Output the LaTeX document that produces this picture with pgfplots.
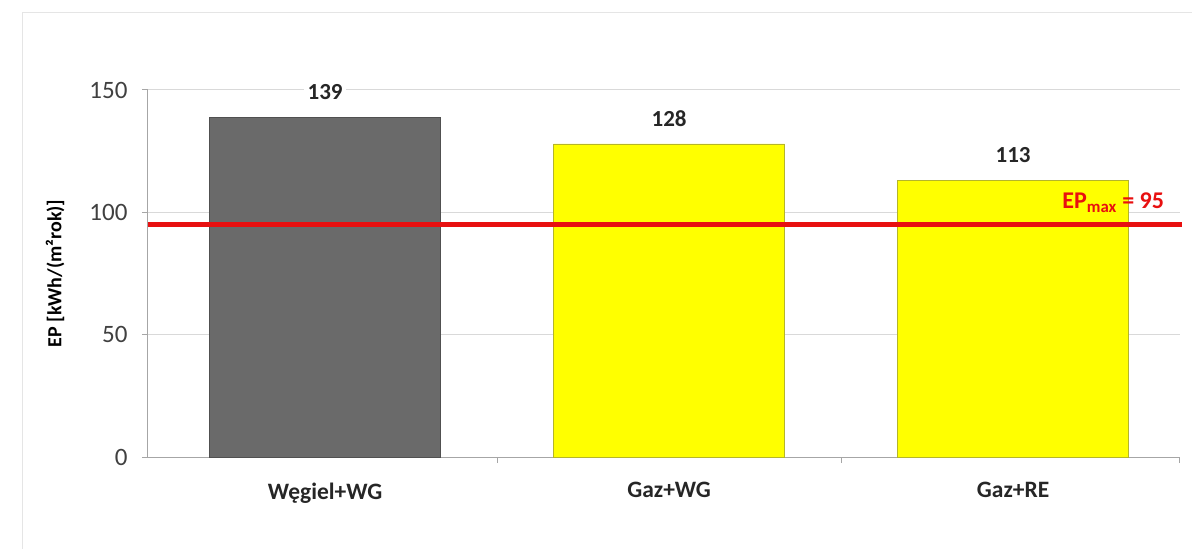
\documentclass[border=0pt]{standalone}
\usepackage{pgfplots}
\pgfplotsset{compat=1.18}
\usepackage{fontspec}
\setmainfont{Carlito}
\definecolor{barGray}{HTML}{6A6A6A}
\definecolor{barGrayEdge}{HTML}{505050}
\definecolor{barYellow}{HTML}{FFFF00}
\definecolor{barYellowEdge}{HTML}{B5B52A}
\definecolor{epRed}{HTML}{E81010}
\definecolor{tickGray}{HTML}{404040}

\begin{document}
\begin{tikzpicture}[x=1pt,y=1pt]
\path[use as bounding box] (0,0) rectangle (1192,549);
\draw[black!10] (22,0) -- (22,537) -- (1192,537);
\begin{axis}[
	at={(148pt,92pt)}, anchor=south west,
	scale only axis,
	width=1032pt, height=367pt,
	xmin=-0.515, xmax=2.485,
	ymin=0, ymax=150,
	clip=false,
	axis lines*=left,
	axis line style={draw=black!35, line width=1pt},
	ytick={0,50,100,150},
	ymajorgrids,
	grid style={black!15, line width=1pt},
	xtick={0,1,2},
	xticklabels={Węgiel+WG, Gaz+WG, Gaz+RE},
	minor xtick={0.5,1.5,2.485},
	tick align=outside,
	major x tick style={draw=none},
	major tick length=6pt, minor tick length=6pt,
	tick style={black!35, line width=1pt},
	/pgf/number format/assume math mode=true,
	yticklabel style={font=\fontsize{25}{30}\selectfont, text=tickGray, xshift=-11pt},
	xticklabel style={font=\fontsize{23.5}{28}\selectfont\bfseries, text=black!85, yshift=-16pt},
	ylabel={EP [kWh/(m²rok)]},
	ylabel style={at={(axis description cs:-0.09,0.5)}, anchor=center, rotate=0,
		font=\fontsize{20}{24}\selectfont\bfseries},
]
\addplot[ybar, bar width=231pt, bar shift=0pt, fill=barGray, draw=barGrayEdge,
	nodes near coords,
	every node near coord/.append style={font=\fontsize{23}{28}\selectfont\bfseries,
		fill=white, anchor=south, yshift=14pt, text=black!85}]
	coordinates {(0,139)};
\addplot[ybar, bar width=231pt, bar shift=0pt, fill=barYellow, draw=barYellowEdge,
	nodes near coords,
	every node near coord/.append style={font=\fontsize{23}{28}\selectfont\bfseries,
		fill=white, anchor=south, yshift=14pt, text=black!85}]
	coordinates {(1,128) (2,113)};
\addplot[epRed, line width=5pt, sharp plot, no marks, forget plot]
	coordinates {(-0.515,95) (2.49,95)};
\node[anchor=south east, text=epRed, font=\fontsize{24}{29}\selectfont\bfseries,
	inner sep=2pt] at (axis cs:2.445,99) {EP\textsubscript{max} = 95};
\end{axis}
\end{tikzpicture}
\end{document}
